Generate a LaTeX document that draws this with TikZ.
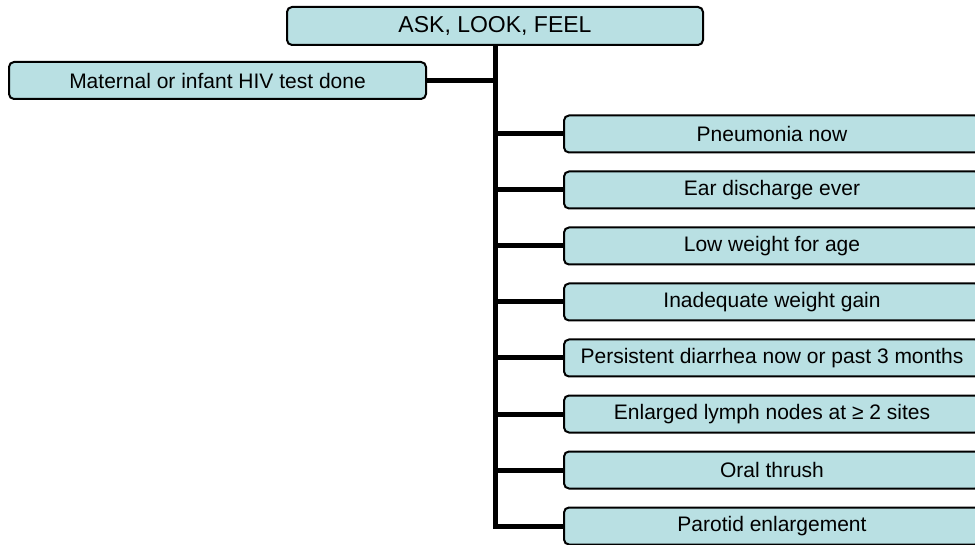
\documentclass[tikz,border=0pt]{standalone}
\usepackage{fontspec}
\setmainfont{Liberation Sans}
\definecolor{boxfill}{RGB}{185,224,227}
\begin{document}
\begin{tikzpicture}[x=1pt,y=-1pt,
  box/.style={draw=black, line width=2pt, rounded corners=5pt, fill=boxfill,
    inner sep=0pt, minimum width=416pt, minimum height=37pt,
    font=\fontsize{21}{24}\selectfont, text=black},
  link/.style={line width=5pt, line join=miter}]
\useasboundingbox (0,0) rectangle (975,545);
\clip (0,0) rectangle (975,545);
\node[box, minimum height=38pt, font=\fontsize{23}{26}\selectfont] (top) at (495,26) {ASK, LOOK, FEEL};
\node[box, minimum width=417pt] (left) at (217.5,80.5) {Maternal or infant HIV test done};
\node[box] (r1) at (772,134) {Pneumonia now};
\node[box] (r2) at (772,190) {Ear discharge ever};
\node[box] (r3) at (772,246) {Low weight for age};
\node[box] (r4) at (772,302) {Inadequate weight gain};
\node[box] (r5) at (772,358) {Persistent diarrhea now or past 3 months};
\node[box] (r6) at (772,414) {Enlarged lymph nodes at ≥ 2 sites};
\node[box] (r7) at (772,470) {Oral thrush};
\node[box] (r8) at (772,526) {Parotid enlargement};
\draw[link] (top.south) -- (top.south |- r8.west) -- (r8.west);
\draw[link] (left.east) -- (top.south |- left.east);
\foreach \n in {r1,r2,r3,r4,r5,r6,r7}
  \draw[link] (top.south |- \n.west) -- (\n.west);
\end{tikzpicture}
\end{document}
